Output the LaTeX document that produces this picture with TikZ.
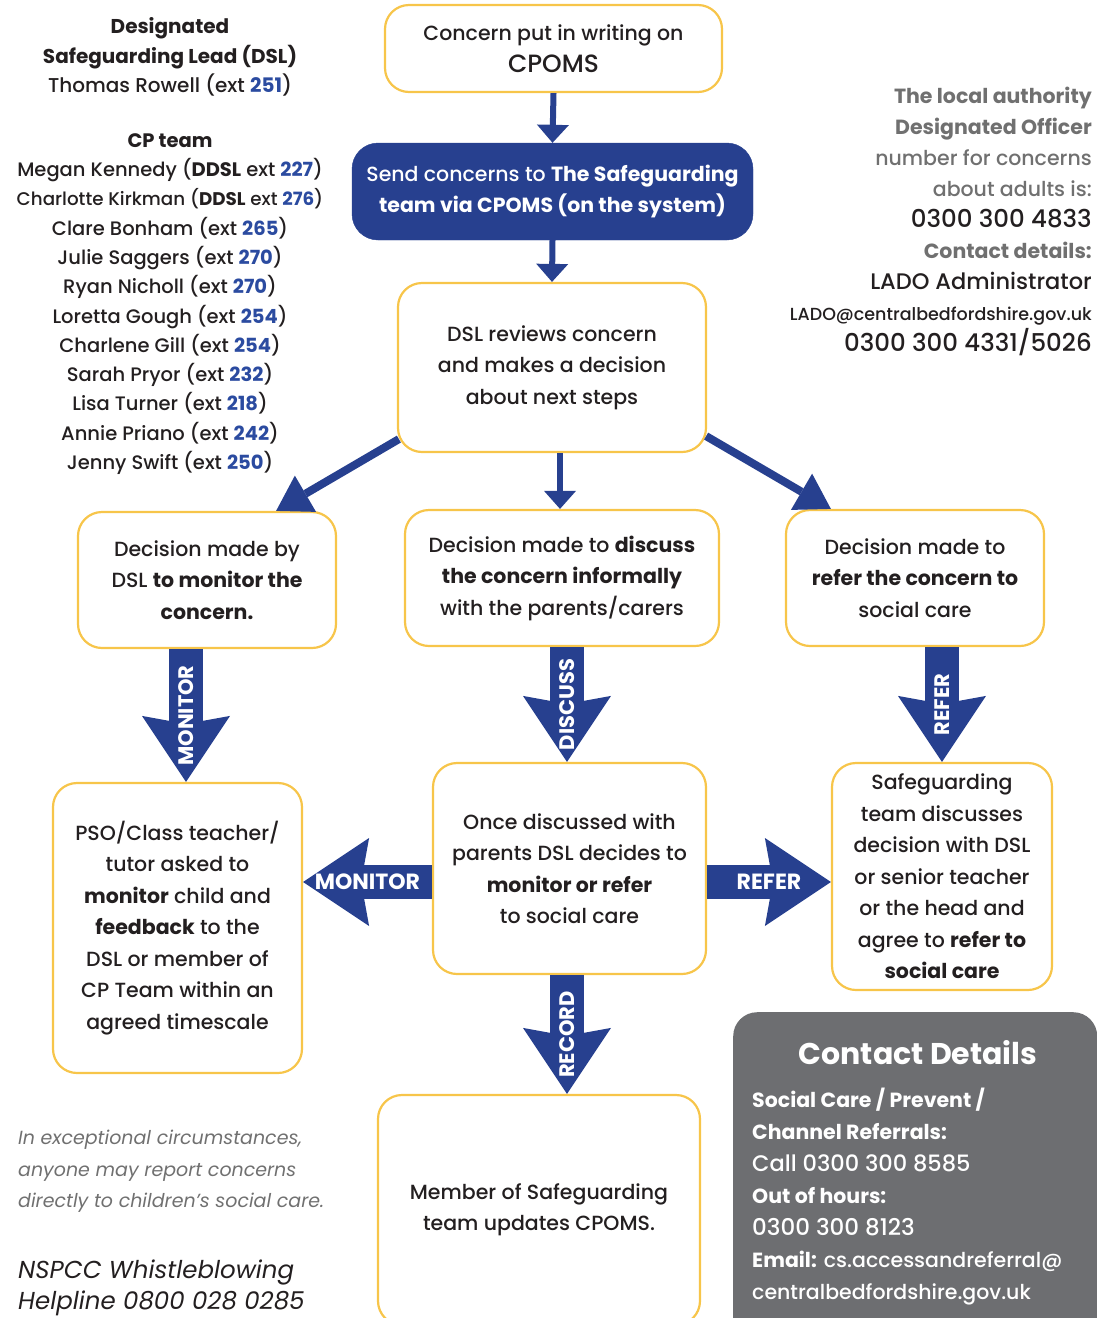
\documentclass[tikz,border=0pt]{standalone}
\usepackage{fontspec}
\setmainfont{Poppins}[UprightFont=* Medium, BoldFont=* Bold, ItalicFont=* Italic, BoldItalicFont=* Bold Italic]
\usetikzlibrary{arrows.meta,calc}
\definecolor{nblue}{HTML}{27408F}
\definecolor{byel}{HTML}{F7C54A}
\definecolor{dgray}{HTML}{6D6E71}
\definecolor{tgray}{HTML}{707070}
\definecolor{xblue}{HTML}{2B4BA0}
\definecolor{ink}{HTML}{231F20}
\newcommand\extn[1]{\textcolor{xblue}{\bfseries #1}}
\begin{document}
\begin{tikzpicture}[x=1pt,y=-1pt,
  box/.style={draw=byel, line width=2.2pt, rounded corners=24pt, fill=white, align=center, inner sep=0pt, text=ink, font=\fontsize{20.5}{31.5}\selectfont},
  bluebox/.style={fill=nblue, draw=nblue, rounded corners=26pt, align=center, inner sep=0pt, text=white, font=\fontsize{20.5}{31}\selectfont},
  asmall/.style={draw=nblue, line width=6pt, -{Triangle[width=32pt,length=18pt,line width=0pt]}},
  adiag/.style={draw=nblue, line width=8pt, -{Triangle[width=42pt,length=34pt,line width=0pt]}},
  afat/.style={draw=nblue, line width=34pt, -{Stealth[width=88pt,length=66pt,inset=8pt,line width=0pt]}},
  lblv/.style={rotate=90, text=white, inner sep=0pt, font=\bfseries\fontsize{21}{21}\selectfont},
  lblh/.style={text=white, inner sep=0pt, font=\bfseries\fontsize{22}{22}\selectfont},
  txt/.style={inner sep=0pt, text=ink}
]
\useasboundingbox (0,0) rectangle (1097,1318);
\clip (0,0) rectangle (1097,1318);

% ---------- boxes ----------
\node[box, minimum width=337pt, minimum height=87pt] (top) at (553.5,48.5) {Concern put in writing on\\{\fontsize{25}{31.5}\selectfont CPOMS}};
\node[bluebox, minimum width=401pt, minimum height=97pt] (send) at (552.5,191.5) {Send concerns to \textbf{The Safeguarding}\\\textbf{team via CPOMS (on the system)}};
\node[box, minimum width=308pt, minimum height=169pt] (dsl) at (552,367.5) {DSL reviews concern\\and makes a decision\\about next steps};
\node[box, minimum width=258pt, minimum height=136pt] (left) at (207,580) {Decision made by\\DSL \textbf{to monitor the}\\\textbf{concern.}};
\node[box, minimum width=314pt, minimum height=136pt] (mid) at (562,578) {Decision made to \textbf{discuss}\\\textbf{the concern informally}\\with the parents/carers};
\node[box, minimum width=258pt, minimum height=136pt] (right) at (915,578) {Decision made to\\\textbf{refer the concern to}\\social care};
\node[box, minimum width=249pt, minimum height=290pt] (pso) at (177.5,928) {PSO/Class teacher/\\tutor asked to\\\textbf{monitor} child and\\\textbf{feedback} to the\\DSL or member of\\CP Team within an\\agreed timescale};
\node[box, minimum width=273pt, minimum height=211pt] (once) at (569.5,868.5) {Once discussed with\\parents DSL decides to\\\textbf{monitor or refer}\\to social care};
\node[box, minimum width=220pt, minimum height=227pt] (sg) at (942,876.5) {Safeguarding\\team discusses\\decision with DSL\\or senior teacher\\or the head and\\agree to \textbf{refer to}\\\textbf{social care}};
\node[box, minimum width=322pt, minimum height=230pt] (member) at (539,1210) {Member of Safeguarding\\team updates CPOMS.};

% ---------- contact box ----------
\node[fill=dgray, rounded corners=24pt, minimum width=364pt, minimum height=330pt, anchor=north west, inner sep=0pt] (cbox) at (733,1012) {};
\node[txt, text=white, font=\bfseries\fontsize{30}{30}\selectfont] (chead) at (918,1053) {Contact Details};
\node[txt, text=white, anchor=north west, align=left, font=\fontsize{20.5}{32}\selectfont] (cbody) at (752,1088) {\textbf{Social Care / Prevent /}\\\textbf{Channel Referrals:}\\{\fontsize{22.5}{32}\selectfont Call 0300 300 8585}\\\textbf{Out of hours:}\\{\fontsize{23}{32}\selectfont 0300 300 8123}\\\textbf{Email:} cs.accessandreferral@\\centralbedfordshire.gov.uk};

% ---------- side texts ----------
\node[txt, align=center, font=\fontsize{20}{29.5}\selectfont] (dslinfo) at (170,57) {\textbf{Designated}\\\textbf{Safeguarding Lead (DSL)}\\Thomas Rowell (ext \extn{251})};
\node[txt, align=center, font=\fontsize{19.5}{29.3}\selectfont] (cpteam) at (170,304) {\textbf{CP team}\\Megan Kennedy (\textbf{DDSL} ext \extn{227})\\{\fontsize{18.3}{29.3}\selectfont Charlotte Kirkman (\textbf{DDSL} ext \extn{276})}\\Clare Bonham (ext \extn{265})\\Julie Saggers (ext \extn{270})\\Ryan Nicholl (ext \extn{270})\\Loretta Gough (ext \extn{254})\\Charlene Gill (ext \extn{254})\\Sarah Pryor (ext \extn{232})\\Lisa Turner (ext \extn{218})\\Annie Priano (ext \extn{242})\\Jenny Swift (ext \extn{250})};
\node[txt, align=right, anchor=east, font=\fontsize{20.5}{31}\selectfont] (lado) at (1092,221.5) {\textcolor{tgray}{\textbf{The local authority}}\\\textcolor{tgray}{\textbf{Designated Officer}}\\\textcolor{tgray}{number for concerns}\\\textcolor{tgray}{about adults is:}\\{\fontsize{24.5}{31}\selectfont 0300 300 4833}\\\textcolor{tgray}{\textbf{Contact details:}}\\{\fontsize{22.5}{31}\selectfont LADO Administrator}\\{\fontsize{17.5}{31}\selectfont LADO@centralbedfordshire.gov.uk}\\{\fontsize{24.5}{31}\selectfont 0300 300 4331/5026}};
\node[txt, align=left, anchor=west, text=tgray, font=\itshape\fontsize{19}{31.5}\selectfont] (except) at (18,1171.5) {In exceptional circumstances,\\anyone may report concerns\\directly to children's social care.};
\node[txt, align=left, anchor=west, font=\itshape\fontsize{24.5}{31}\selectfont] (nspcc) at (18,1287.5) {NSPCC Whistleblowing\\Helpline 0800 028 0285};

% ---------- connectors ----------
\coordinate (cx1) at (186,0);
\coordinate (cx2) at (567,0);
\coordinate (cx3) at (942,0);
\coordinate (cx4) at (560,0);
\coordinate (hy) at (0,882);

\draw[asmall] (top.south) -- (send.north);
\draw[asmall] (send.south) -- (dsl.north);
\draw[asmall] (dsl.south -| cx4) -- (mid.north -| cx4);
\draw[adiag] ($(dsl.south west)+(2,-14)$) -- ($(left.north east)+(-61,0)$);
\draw[adiag] ($(dsl.south east)+(-1,-17)$) -- ($(right.north west)+(46,0)$);

\draw[afat] (left.south -| cx1) -- node[lblv]{MONITOR} (pso.north -| cx1);
\draw[afat] (mid.south -| cx2) -- node[lblv]{DISCUSS} (once.north -| cx2);
\draw[afat] (right.south -| cx3) -- node[lblv]{REFER} (sg.north -| cx3);
\draw[afat] (once.south -| cx2) -- node[lblv]{RECORD} (member.north -| cx2);
\draw[afat] (once.west |- hy) -- node[lblh]{MONITOR} (pso.east |- hy);
\draw[afat] (once.east |- hy) -- node[lblh]{REFER} (sg.west |- hy);
\end{tikzpicture}
\end{document}
